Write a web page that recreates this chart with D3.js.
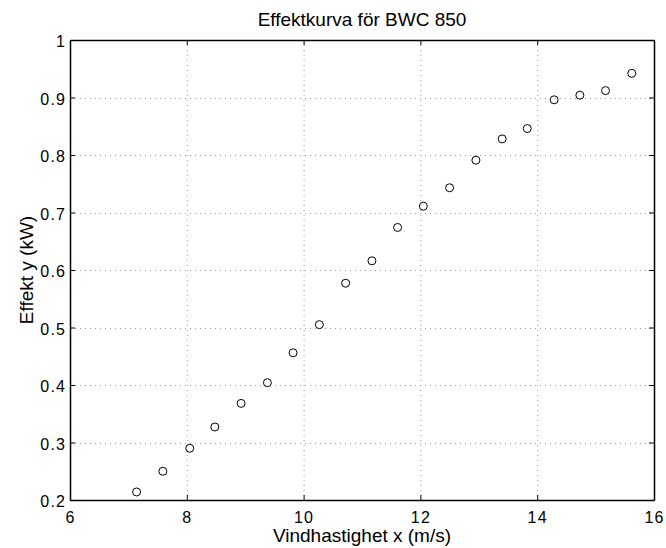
<!DOCTYPE html>
<html lang="sv">
<head>
<meta charset="UTF-8">
<title>Effektkurva</title>
<style>
  body { margin: 0; background: #fff; }
  svg { display: block; }
  text { font-family: "Liberation Sans", Arial, sans-serif; fill: #000; }
</style>
</head>
<body>
<svg id="chart" width="666" height="548"></svg>
<script src="https://d3js.org/d3.v7.min.js"></script>
<script>
// wind speed (m/s) and power readings
const windSpeed = [7.14, 7.59, 8.05, 8.48, 8.93, 9.38, 9.82, 10.27, 10.72, 11.17,
                   11.61, 12.05, 12.50, 12.95, 13.40, 13.83, 14.29, 14.73, 15.17, 15.62];
const power = [0.214, 0.250, 0.290, 0.327, 0.368, 0.404, 0.456, 0.505, 0.577, 0.616,
               0.674, 0.711, 0.743, 0.791, 0.828, 0.846, 0.896, 0.904, 0.912, 0.942];
const xTicks = [6, 8, 10, 12, 14, 16];
const yTicks = [0.2, 0.3, 0.4, 0.5, 0.6, 0.7, 0.8, 0.9, 1];

const margin = {left: 70, right: 12, top: 40, bottom: 48};
const width = 666, height = 548;
const labelSize = 19, tickSize = 16;

const svg = d3.select("#chart");

const x = d3.scaleLinear().domain([6, 16]).range([margin.left, width - margin.right]);
const y = d3.scaleLinear().domain([0.2, 1]).range([height - margin.bottom, margin.top]);

// grid
const grid = svg.append("g")
    .attr("stroke", "#999")
    .attr("stroke-width", 1)
    .attr("stroke-dasharray", "1,4");
grid.selectAll("line.v")
    .data(xTicks.slice(1, -1))
    .join("line")
    .attr("x1", d => x(d) + 0.5).attr("x2", d => x(d) + 0.5)
    .attr("y1", y(1)).attr("y2", y(0.2));
grid.selectAll("line.h")
    .data(yTicks.slice(1, -1))
    .join("line")
    .attr("y1", d => Math.round(y(d)) + 0.5).attr("y2", d => Math.round(y(d)) + 0.5)
    .attr("x1", x(6)).attr("x2", x(16));

// axes with mirrored inner ticks
const fmt = d3.format("");
const xBottom = svg.append("g")
    .attr("transform", `translate(0,${y(0.2)})`)
    .call(d3.axisBottom(x).tickValues(xTicks).tickSizeInner(-5).tickSizeOuter(0).tickPadding(12).tickFormat(fmt));
const xTop = svg.append("g")
    .attr("transform", `translate(0,${y(1)})`)
    .call(d3.axisTop(x).tickValues(xTicks).tickSizeInner(-5).tickSizeOuter(0).tickFormat(""));
const yLeft = svg.append("g")
    .attr("transform", `translate(${x(6)},0)`)
    .call(d3.axisLeft(y).tickValues(yTicks).tickSizeInner(-5).tickSizeOuter(0).tickPadding(5).tickFormat(fmt));
const yRight = svg.append("g")
    .attr("transform", `translate(${x(16)},0)`)
    .call(d3.axisRight(y).tickValues(yTicks).tickSizeInner(-5).tickSizeOuter(0).tickFormat(""));

[xBottom, xTop, yLeft, yRight].forEach(g => {
  g.select(".domain").attr("stroke", "#000").attr("stroke-width", 1.5);
  g.selectAll(".tick line").attr("stroke", "#000");
  g.selectAll(".tick text")
      .attr("font-size", tickSize)
      .attr("letter-spacing", 1.2)
      .attr("font-family", "Liberation Sans, Arial, sans-serif");
});
yLeft.selectAll(".tick text").attr("dy", "0.42em").attr("dx", 1.2);

// points
svg.append("g")
    .selectAll("circle")
    .data(windSpeed)
    .join("circle")
    .attr("cx", d => x(d))
    .attr("cy", (d, i) => y(power[i]))
    .attr("r", 4)
    .attr("fill", "none")
    .attr("stroke", "#000")
    .attr("stroke-width", 1);

// labels
svg.append("text")
    .attr("x", (x(6) + x(16)) / 2).attr("y", 26)
    .attr("text-anchor", "middle").attr("font-size", labelSize)
    .text("Effektkurva för BWC 850");
svg.append("text")
    .attr("x", (x(6) + x(16)) / 2).attr("y", 542)
    .attr("text-anchor", "middle").attr("font-size", labelSize)
    .text("Vindhastighet x (m/s)");
svg.append("text")
    .attr("transform", `translate(33,${(y(0.2) + y(1)) / 2}) rotate(-90)`)
    .attr("text-anchor", "middle").attr("font-size", labelSize)
    .text("Effekt y (kW)");
</script>
</body>
</html>
